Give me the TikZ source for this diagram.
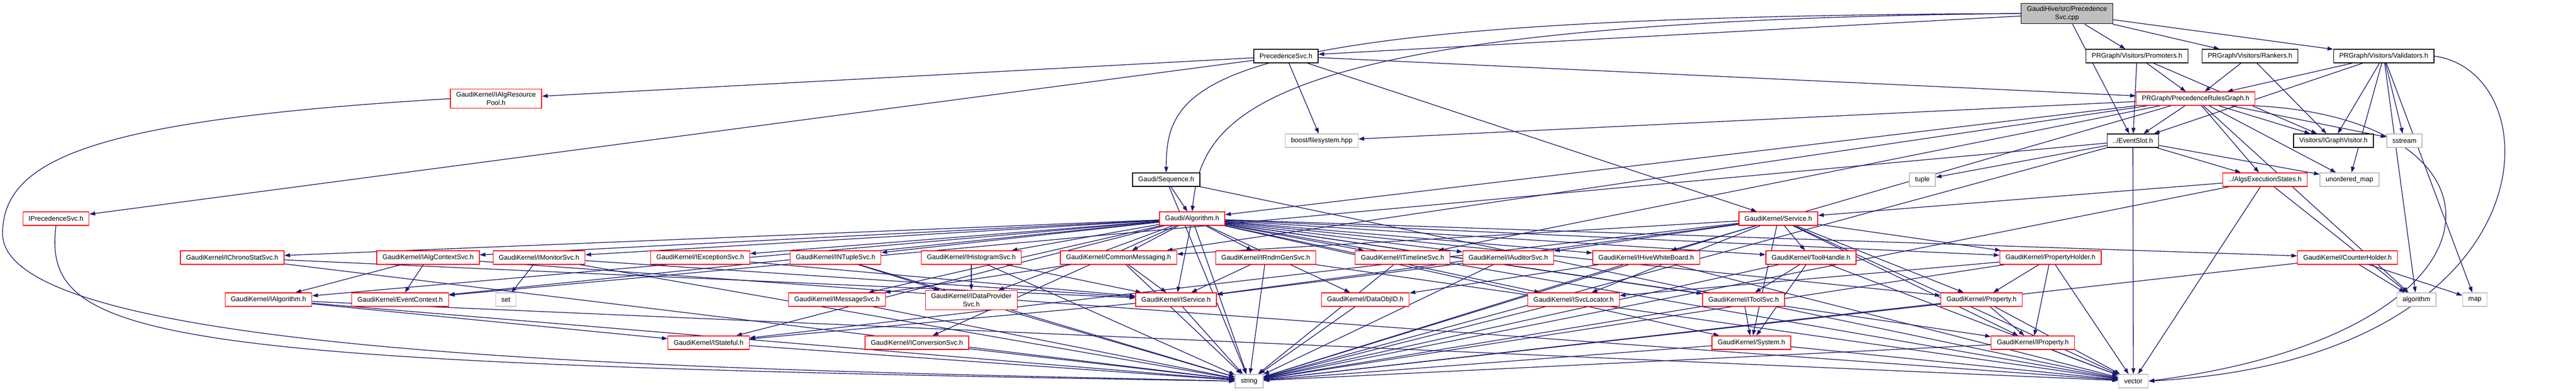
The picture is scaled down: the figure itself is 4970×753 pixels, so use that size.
\documentclass[tikz,border=0pt]{standalone}
\usepackage{fontspec}
\setmainfont{Liberation Sans}
\usepackage{tikz}
\usetikzlibrary{arrows.meta}
\usetikzlibrary{backgrounds}
\definecolor{AzulDoxy}{HTML}{191970}
\definecolor{RojoDoxy}{HTML}{FF0000}
\definecolor{GrisDoxy}{HTML}{BFBFBF}

\tikzset{
  file/.style = {draw, fill = white, line width = .4pt, minimum height = 2.6mm,
    inner xsep = 1.1mm, inner ysep = .6mm, align = center,
    font = \fontsize{3.7pt}{4.4pt}\selectfont},
  redfile/.style = {file, draw = RojoDoxy},
  blackfile/.style = {file, draw = black},
  sysfile/.style = {file, draw = GrisDoxy},
  mainfile/.style = {file, draw = black, fill = GrisDoxy},
  dep/.style = {-{Triangle[length = 1.1mm, width = .75mm]}, line width = .38pt, draw = AzulDoxy}
}

\begin{document}
\begin{tikzpicture}[x = .1mm, y = -.1mm]
  \useasboundingbox (0,0) rectangle (4970,753);

  % top part
  \node[mainfile] (cpp) at (3988,26) {GaudiHive/src/Precedence\\Svc.cpp};
  \node[blackfile] (psvch) at (2481,108) {PrecedenceSvc.h};
  \node[blackfile] (prom) at (4123,108) {PRGraph/Visitors/Promoters.h};
  \node[blackfile] (rank) at (4341,108) {PRGraph/Visitors/Rankers.h};
  \node[blackfile] (valid) at (4599,108) {PRGraph/Visitors/Validators.h};
  \node[redfile] (respool) at (957,190) {GaudiKernel/IAlgResource\\Pool.h};
  \node[redfile] (prg) at (4236,190) {PRGraph/PrecedenceRulesGraph.h};
  \node[sysfile] (boostfs) at (2550,271) {boost/filesystem.hpp};
  \node[blackfile] (eslot) at (4115,271) {../EventSlot.h};
  \node[blackfile] (igv) at (4502,271) {Visitors/IGraphVisitor.h};
  \node[sysfile] (sstream) at (4639,271) {sstream};
  \node[blackfile] (seq) at (2250,346) {Gaudi/Sequence.h};
  \node[sysfile] (tuple) at (3709,346) {tuple};
  \node[redfile] (aes) at (4370,346) {../AlgsExecutionStates.h};
  \node[sysfile] (umap) at (4533,346) {unordered\_map};
  \node[redfile] (iprec) at (108,421) {IPrecedenceSvc.h};
  \node[redfile] (alg) at (2300,421) {Gaudi/Algorithm.h};
  \node[redfile] (service) at (3431,421) {GaudiKernel/Service.h};

  % interfaces
  \node[redfile] (ichrono) at (448,496) {GaudiKernel/IChronoStatSvc.h};
  \node[redfile] (ialgctx) at (826,496) {GaudiKernel/IAlgContextSvc.h};
  \node[redfile] (imonitor) at (1040,496) {GaudiKernel/IMonitorSvc.h};
  \node[redfile] (iexcept) at (1351,496) {GaudiKernel/IExceptionSvc.h};
  \node[redfile] (intuple) at (1612,496) {GaudiKernel/INTupleSvc.h};
  \node[redfile] (ihisto) at (1874,496) {GaudiKernel/IHistogramSvc.h};
  \node[redfile] (commsg) at (2158,496) {GaudiKernel/CommonMessaging.h};
  \node[redfile] (irndm) at (2442,496) {GaudiKernel/IRndmGenSvc.h};
  \node[redfile] (itimeline) at (2706,496) {GaudiKernel/ITimelineSvc.h};
  \node[redfile] (iauditor) at (2910,496) {GaudiKernel/IAuditorSvc.h};
  \node[redfile] (ihivewb) at (3176,496) {GaudiKernel/IHiveWhiteBoard.h};
  \node[redfile] (toolhandle) at (3494,496) {GaudiKernel/ToolHandle.h};
  \node[redfile] (propholder) at (3956,496) {GaudiKernel/PropertyHolder.h};
  \node[redfile] (counterholder) at (4529,496) {GaudiKernel/CounterHolder.h};

  \node[redfile] (ialg) at (518,577) {GaudiKernel/IAlgorithm.h};
  \node[redfile] (evctx) at (772,577) {GaudiKernel/EventContext.h};
  \node[sysfile] (set) at (976,577) {set};
  \node[redfile] (imsg) at (1615,577) {GaudiKernel/IMessageSvc.h};
  \node[redfile] (idataprov) at (1874,578) {GaudiKernel/IDataProvider\\Svc.h};
  \node[redfile] (iservice) at (2269,577) {GaudiKernel/IService.h};
  \node[redfile] (dataobjid) at (2634,577) {GaudiKernel/DataObjID.h};
  \node[redfile] (isvcloc) at (3036,577) {GaudiKernel/ISvcLocator.h};
  \node[redfile] (itoolsvc) at (3364,577) {GaudiKernel/IToolSvc.h};
  \node[redfile] (property) at (3823,577) {GaudiKernel/Property.h};
  \node[sysfile] (algorithm) at (4662,577) {algorithm};
  \node[sysfile] (map) at (4775,577) {map};

  \node[redfile] (istateful) at (1367,660) {GaudiKernel/IStateful.h};
  \node[redfile] (iconv) at (1769,660) {GaudiKernel/IConversionSvc.h};
  \node[redfile] (system) at (3379,660) {GaudiKernel/System.h};
  \node[redfile] (iprop) at (3922,660) {GaudiKernel/IProperty.h};

  \node[sysfile] (string) at (2410,734) {string};
  \node[sysfile] (vector) at (4116,734) {vector};

  \begin{scope}[on background layer]
    % includes of the source file
    \foreach \t in {psvch, prom, rank, valid, eslot}
      \draw[dep] (cpp) -- (\t);
    \draw[dep] (cpp.west) .. controls (2330,32) and (2250,150) .. (seq.north);
    \draw[dep] (cpp.west) .. controls (2420,40) and (2320,220) .. (alg.north);

    \foreach \t in {respool, iprec, prg, boostfs, service}
      \draw[dep] (psvch) -- (\t);
    \foreach \t in {eslot, prg, igv}
      \draw[dep] (prom) -- (\t);
    \foreach \t in {prg, igv}
      \draw[dep] (rank) -- (\t);
    \foreach \t in {prg, eslot, igv, sstream, umap, algorithm, map}
      \draw[dep] (valid) -- (\t);
    \draw[dep] (valid.east) .. controls (4930,140) and (4930,690) .. (vector.east);

    \foreach \t in {eslot, igv, sstream, umap, aes, algorithm, boostfs, alg, commsg, ihivewb, itimeline}
      \draw[dep] (prg) -- (\t);
    \draw[dep] (prg.south east) .. controls (4870,230) and (4870,640) .. (vector.east);

    \foreach \t in {tuple, aes, umap, evctx, string, vector}
      \draw[dep] (eslot) -- (\t);
    \foreach \t in {service, string, vector, algorithm}
      \draw[dep] (aes) -- (\t);
    \foreach \t in {alg, string, vector}
      \draw[dep] (seq) -- (\t);

    % Gaudi/Algorithm.h and GaudiKernel/Service.h
    \foreach \t in {ichrono, ialgctx, imonitor, iexcept, intuple, ihisto, commsg, irndm,
        itimeline, iauditor, ihivewb, toolhandle, propholder, counterholder, ialg, evctx,
        imsg, idataprov, iservice, dataobjid, isvcloc, itoolsvc, property, iprop,
        istateful, iconv, system, string, vector}
      \draw[dep] (alg) -- (\t);
    \foreach \t in {commsg, iauditor, iservice, isvcloc, propholder, property, iprop,
        toolhandle, istateful, system, string, vector}
      \draw[dep] (service) -- (\t);

    % lower levels
    \foreach \t in {iservice, string}
      \draw[dep] (ichrono) -- (\t);
    \foreach \t in {ialg, evctx, vector}
      \draw[dep] (ialgctx) -- (\t);
    \foreach \t in {set, string, iservice}
      \draw[dep] (imonitor) -- (\t);
    \draw[dep] (iexcept) -- (iservice);
    \foreach \t in {idataprov, string}
      \draw[dep] (intuple) -- (\t);
    \foreach \t in {idataprov, iservice, string}
      \draw[dep] (ihisto) -- (\t);
    \foreach \t in {iservice, imsg, string}
      \draw[dep] (commsg) -- (\t);
    \foreach \t in {iservice, string, vector}
      \draw[dep] (irndm) -- (\t);
    \draw[dep] (itimeline) -- (string);
    \foreach \t in {iservice, string}
      \draw[dep] (iauditor) -- (\t);
    \foreach \t in {dataobjid, string, vector}
      \draw[dep] (ihivewb) -- (\t);
    \foreach \t in {itoolsvc, system, string, vector}
      \draw[dep] (toolhandle) -- (\t);
    \foreach \t in {property, iprop, isvcloc, string, vector}
      \draw[dep] (propholder) -- (\t);
    \foreach \t in {algorithm, map, string}
      \draw[dep] (counterholder) -- (\t);
    \foreach \t in {istateful, string, vector}
      \draw[dep] (ialg) -- (\t);
    \foreach \t in {istateful, string}
      \draw[dep] (iservice) -- (\t);
    \foreach \t in {system, string}
      \draw[dep] (itoolsvc) -- (\t);
    \foreach \t in {iprop, string, vector}
      \draw[dep] (property) -- (\t);
    \foreach \t in {string, vector}
      \draw[dep] (iprop) -- (\t);
    \foreach \t in {string, vector}
      \draw[dep] (system) -- (\t);
    \foreach \f in {imsg, idataprov, dataobjid, isvcloc, istateful, iconv}
      \draw[dep] (\f) -- (string);

    % the two long ones round the left side
    \draw[dep] (respool.west) .. controls (200,230) and (5,300) .. (5,450)
      .. controls (5,700) and (1500,712) .. (string.west);
    \draw[dep] (iprec.south) .. controls (80,660) and (300,700) .. (string.west);
  \end{scope}
\end{tikzpicture}
\end{document}
